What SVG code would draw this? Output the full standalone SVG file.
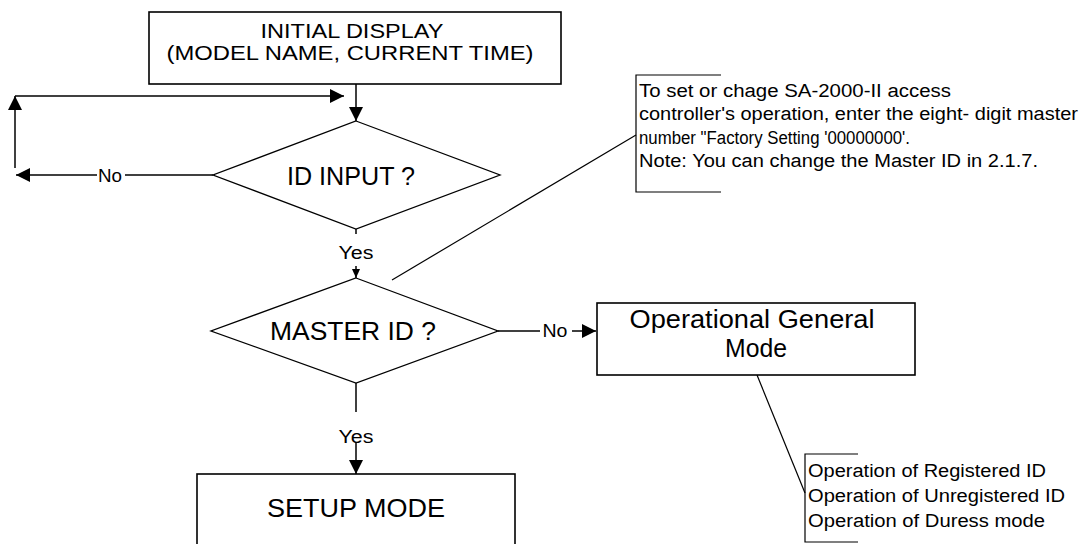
<svg xmlns="http://www.w3.org/2000/svg" width="1086" height="544" viewBox="0 0 1086 544">
<defs>
<style>
.t{font-family:"Liberation Sans",Arial,sans-serif;fill:#000}
.box{fill:#fff;stroke:#000;stroke-width:1.6}
.dia{fill:#fff;stroke:#000;stroke-width:1.3}
.ln{fill:none;stroke:#000;stroke-width:1.5}
.thin{fill:none;stroke:#000;stroke-width:1.2}
</style>
<marker id="ah" markerWidth="14" markerHeight="14" refX="14" refY="7" orient="auto" markerUnits="userSpaceOnUse">
<path d="M0,0 L14,7 L0,14 Z" fill="#000"/>
</marker>
<marker id="ahs" markerWidth="9" markerHeight="8" refX="9" refY="4" orient="auto" markerUnits="userSpaceOnUse">
<path d="M0,0 L9,4 L0,8 Z" fill="#000"/>
</marker>
</defs>
<rect width="1086" height="544" fill="#fff"/>

<g id="connectors">
<path class="ln" d="M356,84 L356,121" marker-end="url(#ah)"/>
<path class="ln" d="M125,175 L213,175"/>
<path class="ln" d="M97,175 L16,175" marker-end="url(#ah)"/>
<path class="ln" d="M15,168 L15,96" marker-end="url(#ah)"/>
<path class="ln" d="M15,96 L344,96" marker-end="url(#ah)"/>
<path class="ln" d="M356,229 L356,234"/>
<path class="ln" d="M356,266 L356,278" marker-end="url(#ahs)"/>
<path class="ln" d="M498,331 L540,331"/>
<path class="ln" d="M572,331 L596,331" marker-end="url(#ah)"/>
<path class="ln" d="M356,383 L356,412"/>
<path class="ln" d="M356,442 L356,474" marker-end="url(#ah)"/>
<path class="thin" d="M392,280 L636,135"/>
<path class="thin" d="M757,375 L805,493"/>
<text class="t" x="110" y="182" font-size="18" text-anchor="middle" textLength="24" lengthAdjust="spacingAndGlyphs">No</text>
<text class="t" x="356" y="259" font-size="18" text-anchor="middle" textLength="35" lengthAdjust="spacingAndGlyphs">Yes</text>
<text class="t" x="555" y="337" font-size="18" text-anchor="middle" textLength="25" lengthAdjust="spacingAndGlyphs">No</text>
<text class="t" x="356" y="443" font-size="18" text-anchor="middle" textLength="35" lengthAdjust="spacingAndGlyphs">Yes</text>
</g>

<g id="initial-display">
<rect class="box" x="149" y="12" width="412" height="72"/>
<text class="t" x="352" y="38" font-size="20" text-anchor="middle" textLength="183" lengthAdjust="spacingAndGlyphs">INITIAL DISPLAY</text>
<text class="t" x="350" y="60" font-size="20" text-anchor="middle" textLength="367" lengthAdjust="spacingAndGlyphs">(MODEL NAME, CURRENT TIME)</text>
</g>

<g id="id-input">
<polygon class="dia" points="356,121 500,175 356,229 213,175"/>
<text class="t" x="351" y="185" font-size="26" text-anchor="middle" textLength="128" lengthAdjust="spacingAndGlyphs">ID INPUT ?</text>
</g>

<g id="master-id">
<polygon class="dia" points="356,278 498,331 356,383 211,331"/>
<text class="t" x="353" y="340" font-size="26" text-anchor="middle" textLength="166" lengthAdjust="spacingAndGlyphs">MASTER ID ?</text>
</g>

<g id="operational-general-mode">
<rect class="box" x="597" y="303" width="318" height="72"/>
<text class="t" x="752" y="328" font-size="25" text-anchor="middle" textLength="245" lengthAdjust="spacingAndGlyphs">Operational General</text>
<text class="t" x="756" y="357" font-size="25" text-anchor="middle" textLength="62" lengthAdjust="spacingAndGlyphs">Mode</text>
</g>

<g id="setup-mode">
<rect class="box" x="197" y="474" width="318" height="80"/>
<text class="t" x="356" y="517" font-size="26" text-anchor="middle" textLength="178" lengthAdjust="spacingAndGlyphs">SETUP MODE</text>
</g>

<g id="master-note">
<path class="thin" d="M721,75 L636,75 L636,192 L721,192"/>
<text class="t" x="639" y="97" font-size="18" textLength="312" lengthAdjust="spacingAndGlyphs">To set or chage SA-2000-II access</text>
<text class="t" x="639" y="120" font-size="18" textLength="439" lengthAdjust="spacingAndGlyphs">controller's operation, enter the eight- digit master</text>
<text class="t" x="639" y="144" font-size="18" textLength="271" lengthAdjust="spacingAndGlyphs">number "Factory Setting '00000000'.</text>
<text class="t" x="639" y="167" font-size="18" textLength="399" lengthAdjust="spacingAndGlyphs">Note: You can change the Master ID in 2.1.7.</text>
</g>

<g id="operation-note">
<path class="thin" d="M858,454 L805,454 L805,542 L858,542"/>
<text class="t" x="808" y="477" font-size="18" textLength="238" lengthAdjust="spacingAndGlyphs">Operation of Registered ID</text>
<text class="t" x="808" y="502" font-size="18" textLength="257" lengthAdjust="spacingAndGlyphs">Operation of Unregistered ID</text>
<text class="t" x="808" y="527" font-size="18" textLength="237" lengthAdjust="spacingAndGlyphs">Operation of Duress mode</text>
</g>
</svg>
